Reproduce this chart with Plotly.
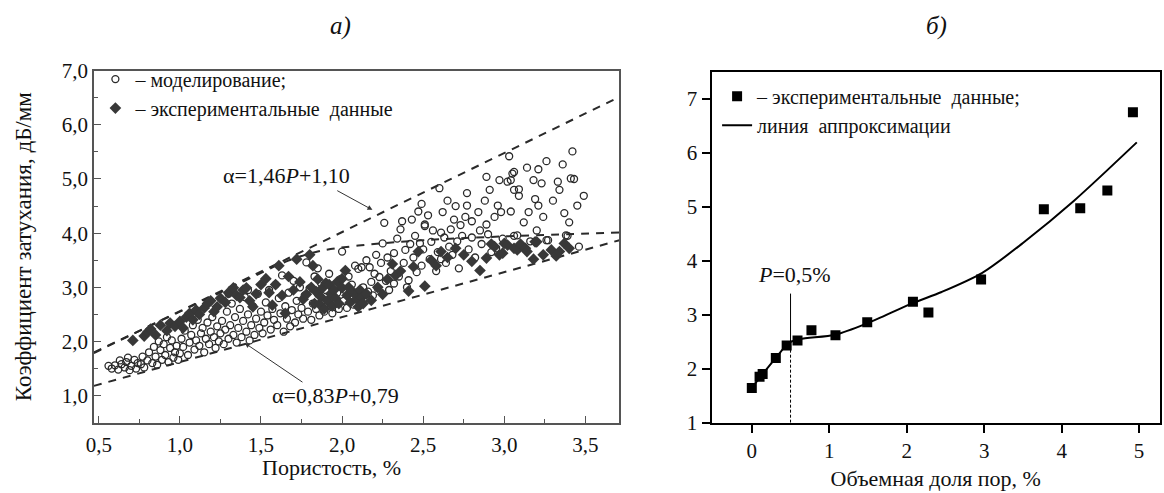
import plotly.graph_objects as go

W, H = 1164, 493
FONT = "Liberation Serif"

# ---------------- panel (а): porosity vs attenuation ----------------
model_P = [0.56,0.58,0.60,0.62,0.64,0.66,0.67,0.69,0.70,0.72,0.73,0.74,0.68,0.63,
           0.76,0.77,0.78,0.80,0.81,0.83,0.84,0.85,0.86,0.88,0.89,0.90,0.91,0.93,0.94,0.95,0.96,0.97,0.98,0.99,0.87,0.92,
           1.00,1.01,1.02,1.03,1.05,1.06,1.07,1.08,1.09,1.10,1.11,1.12,1.13,1.14,1.15,1.16,1.17,1.18,1.19,1.20,1.21,1.22,1.23,1.24,1.25,
           1.26,1.27,1.28,1.29,1.30,1.31,1.32,1.33,1.34,1.35,1.36,1.37,1.38,1.39,1.40,1.41,1.42,1.43,1.44,1.45,1.46,1.47,1.48,1.49,1.50,1.30,1.42,
           1.51,1.52,1.53,1.54,1.55,1.56,1.57,1.58,1.59,1.60,1.61,1.62,1.63,1.64,1.65,1.66,1.67,1.68,1.69,1.70,1.71,1.72,1.73,1.74,1.75,
           1.76,1.77,1.78,1.79,1.80,1.81,1.82,1.83,1.84,1.85,1.86,1.87,1.88,1.89,1.90,1.91,1.92,1.93,1.94,1.95,1.96,1.97,1.98,1.99,2.00,1.85,
           2.01,2.02,2.03,2.04,2.05,2.06,2.07,2.08,2.09,2.10,2.11,2.12,2.13,2.14,2.15,2.16,2.17,2.18,2.19,2.20,2.21,2.22,2.23,2.24,2.25,
           2.26,2.27,2.28,2.29,2.30,2.32,2.32,2.34,2.35,2.36,2.37,2.38,2.39,2.40,2.41,2.42,2.43,2.44,2.45,2.46,2.47,2.48,2.49,2.49,2.50,
           2.51,2.51,2.53,2.54,2.55,2.56,2.58,2.59,2.60,2.61,2.61,2.62,2.63,2.64,2.65,2.66,2.67,2.68,2.69,2.70,2.71,2.72,2.73,2.74,
           2.76,2.77,2.77,2.78,2.80,2.80,2.82,2.84,2.85,2.86,2.88,2.89,2.89,2.90,2.91,2.92,2.94,2.96,2.97,2.98,2.99,2.95,
           3.02,3.03,3.04,3.04,3.05,3.06,3.06,3.08,3.09,3.09,3.06,3.12,3.14,3.15,3.18,3.19,3.20,3.21,3.21,3.23,3.16,3.24,
           3.26,3.26,3.27,3.30,3.33,3.34,3.36,3.37,3.38,3.39,3.41,3.42,3.43,3.45,3.46,3.49,3.40]
model_A = [1.55,1.50,1.56,1.48,1.58,1.52,1.62,1.47,1.55,1.66,1.50,1.60,1.70,1.65,
           1.58,1.72,1.52,1.65,1.80,1.60,1.90,1.72,1.57,1.84,1.66,1.95,1.75,1.62,1.88,2.02,1.70,1.80,1.92,1.66,2.00,2.08,
           1.78,2.05,1.90,2.20,1.75,1.98,2.12,2.30,1.85,2.02,2.40,1.92,2.15,2.25,1.80,2.05,2.35,1.95,2.18,2.45,2.08,1.88,2.28,2.00,2.15,
           2.38,1.95,2.22,2.55,2.05,2.30,2.70,2.12,2.45,1.98,2.25,2.60,2.08,2.38,2.82,2.18,2.50,2.02,2.30,2.65,2.12,2.42,2.88,2.25,2.55,2.88,2.95,
           2.15,2.35,2.72,2.48,2.95,2.22,2.60,2.40,3.05,2.30,2.80,2.52,3.22,2.18,2.65,2.42,2.90,2.28,2.58,3.12,2.35,2.75,2.50,3.00,2.62,
           2.42,2.85,3.46,2.55,2.98,2.40,2.70,3.20,2.60,2.88,2.48,3.08,2.75,2.55,2.95,2.65,3.25,2.80,2.52,3.02,2.70,2.90,2.60,3.15,3.66,3.35,
           2.75,2.95,2.62,3.20,2.85,3.05,2.68,3.40,2.90,3.34,2.72,3.37,3.00,2.80,3.50,2.92,3.37,3.10,2.85,3.25,3.60,2.98,3.19,3.45,3.81,
           4.19,3.12,3.55,2.95,3.30,3.63,3.07,3.90,3.20,4.07,4.22,3.45,3.69,3.00,3.13,3.80,4.25,3.55,3.95,3.28,4.40,3.81,3.40,4.54,3.70,
           4.13,4.16,4.33,3.52,3.84,4.05,3.30,3.65,4.83,4.01,3.52,4.39,3.92,3.45,4.60,3.75,4.07,3.60,4.25,4.50,3.85,3.35,4.15,3.95,
           4.30,4.74,4.51,3.70,4.22,3.92,3.55,4.39,4.05,3.80,4.60,5.04,4.16,3.98,4.80,3.65,4.30,4.51,4.98,4.39,3.90,3.72,
           4.95,5.42,4.98,4.40,5.10,5.13,4.80,3.96,4.81,4.69,3.95,4.20,5.21,4.39,4.98,4.63,4.05,5.18,4.51,4.92,3.85,4.30,
           5.33,3.87,3.87,4.60,4.95,4.80,5.27,4.37,3.96,3.95,5.01,5.51,5.00,4.51,3.75,4.69,4.20]

exp_P = [0.71,0.78,0.80,0.82,0.85,0.88,0.92,0.94,0.97,1.00,1.02,1.04,1.06,1.08,1.10,1.12,1.15,1.17,1.19,1.21,
         1.23,1.25,1.28,1.30,1.33,1.35,1.37,1.39,1.41,1.43,1.45,1.47,1.50,1.53,1.55,1.57,1.59,1.61,1.63,1.65,
         1.67,1.70,1.72,1.74,1.76,1.78,1.80,1.81,1.82,1.83,1.84,1.85,1.86,1.87,1.88,1.89,1.90,1.91,1.92,1.93,
         1.94,1.95,1.96,1.97,1.98,2.00,2.00,2.02,2.03,2.04,2.05,2.06,2.08,2.09,2.10,2.11,2.12,2.13,2.15,2.18,
         2.22,2.25,2.28,2.31,2.33,2.36,2.41,2.44,2.47,2.51,2.55,2.58,2.61,2.65,2.70,2.75,2.80,2.85,2.89,2.92,
         2.94,2.97,2.99,3.00,3.02,3.06,3.08,3.10,3.13,3.14,3.18,3.19,3.20,3.24,3.29,3.32,3.34,3.37,3.40]
exp_A = [2.02,2.10,2.17,2.23,2.12,2.30,2.20,2.34,2.28,2.37,2.25,2.45,2.52,2.40,2.58,2.50,2.62,2.70,2.75,2.55,
         2.64,2.80,2.72,2.90,2.99,2.85,2.81,2.95,2.99,2.75,2.64,2.88,3.05,3.16,2.90,2.67,3.05,3.40,2.85,2.52,
         3.20,2.95,3.52,3.10,2.78,2.87,3.60,3.00,3.40,2.70,2.92,3.15,2.69,2.82,2.99,2.60,3.08,2.75,3.05,2.88,
         2.65,2.95,2.80,3.10,2.70,3.16,2.99,3.31,2.85,3.00,2.72,2.93,2.87,2.78,2.64,2.95,2.81,2.70,2.88,2.76,
         3.00,2.87,3.15,3.43,3.22,3.30,2.93,3.38,3.66,3.02,3.50,3.40,3.66,3.55,3.72,3.60,3.48,3.31,3.54,3.80,
         3.75,3.60,3.63,3.81,3.78,3.72,3.69,3.80,3.72,3.66,3.52,3.84,3.84,3.60,3.69,3.58,3.66,3.81,3.72]

upper_k, upper_b = 1.46, 1.10
lower_k, lower_b = 0.83, 0.79
a_xrange = [0.47, 3.71]
a_yrange = [0.5, 7.0]

mid_P = [0.47, 1.00, 1.40, 1.65, 1.85, 2.10, 2.50, 3.00, 3.71]
mid_A = [1.80, 2.55, 3.12, 3.47, 3.66, 3.77, 3.87, 3.94, 4.01]

a_ticks = [0.5, 1.0, 1.5, 2.0, 2.5, 3.0, 3.5]
a_ticktext = ["0,5", "1,0", "1,5", "2,0", "2,5", "3,0", "3,5"]
a_yticks = [1, 2, 3, 4, 5, 6, 7]
a_yticktext = ["1,0", "2,0", "3,0", "4,0", "5,0", "6,0", "7,0"]

# ---------------- panel (б): pore volume fraction ----------------
vol_P = [0.00, 0.10, 0.14, 0.31, 0.45, 0.59, 0.77, 1.08, 1.49, 2.08, 2.28, 2.96, 3.77, 4.24, 4.59, 4.92]
vol_A = [1.64, 1.85, 1.90, 2.20, 2.43, 2.52, 2.71, 2.62, 2.86, 3.24, 3.04, 3.65, 4.95, 4.97, 5.30, 6.75]

fit_P = [0.00, 0.31, 0.48, 0.62, 1.08, 1.49, 2.07, 2.45, 2.97, 3.52, 4.16, 4.97]
fit_A = [1.65, 2.20, 2.48, 2.55, 2.63, 2.84, 3.21, 3.42, 3.77, 4.35, 5.11, 6.19]

P_mark = 0.5
P_mark_fitA = 2.50
P_mark_topA = 3.39
b_xrange = [-0.52, 5.27]
b_yrange = [1.0, 7.5]

INK = "#2a2a2a"
TXT = "#111111"

fig = go.Figure()

# boundary lines (а)
fig.add_trace(go.Scatter(
    x=mid_P, y=mid_A, mode="lines", line=dict(color=INK, width=2, dash="8px,7px", shape="spline"),
    showlegend=False, hoverinfo="skip", xaxis="x", yaxis="y"))
for k, b in [(upper_k, upper_b), (lower_k, lower_b)]:
    fig.add_trace(go.Scatter(
        x=a_xrange, y=[k * v + b for v in a_xrange], mode="lines",
        line=dict(color=INK, width=2, dash="8px,7px"),
        showlegend=False, hoverinfo="skip", xaxis="x", yaxis="y"))

fig.add_trace(go.Scatter(
    x=model_P, y=model_A, mode="markers", name="– моделирование;",
    marker=dict(symbol="circle-open", size=7, color=INK, line=dict(width=1.3, color=INK)),
    xaxis="x", yaxis="y", legend="legend"))
fig.add_trace(go.Scatter(
    x=exp_P, y=exp_A, mode="markers", name="– экспериментальные  данные",
    marker=dict(symbol="diamond", size=9, color="#383838", line=dict(width=0)),
    xaxis="x", yaxis="y", legend="legend"))

# panel (б)
fig.add_trace(go.Scatter(
    x=[P_mark, P_mark], y=[b_yrange[0], P_mark_fitA], mode="lines",
    line=dict(color="black", width=1, dash="3px,2px"), showlegend=False, hoverinfo="skip",
    xaxis="x2", yaxis="y2"))
fig.add_trace(go.Scatter(
    x=[P_mark, P_mark], y=[P_mark_fitA, P_mark_topA], mode="lines",
    line=dict(color="black", width=1), showlegend=False, hoverinfo="skip",
    xaxis="x2", yaxis="y2"))
fig.add_trace(go.Scatter(
    x=vol_P, y=vol_A, mode="markers", name="– экспериментальные  данные;",
    marker=dict(symbol="square", size=10, color="black"),
    xaxis="x2", yaxis="y2", legend="legend2"))
fig.add_trace(go.Scatter(
    x=fit_P, y=fit_A, mode="lines", name="линия  аппроксимации",
    line=dict(color="black", width=2, shape="spline", smoothing=0.8),
    xaxis="x2", yaxis="y2", legend="legend2"))

tickfont = dict(family=FONT, size=21, color=TXT)
titlefont = dict(family=FONT, size=22, color=TXT)
left_axis_common = dict(showline=True, linecolor="#555", linewidth=1.5, mirror=True,
                        ticks="inside", tickcolor="#555", ticklen=7, tickwidth=1.2,
                        showgrid=False, zeroline=False, tickfont=tickfont)
right_axis_common = dict(showline=True, linecolor="black", linewidth=2, mirror=True,
                         ticks="outside", ticklen=8, tickwidth=2, tickcolor="black",
                         showgrid=False, zeroline=False, tickfont=tickfont)

fig.update_layout(
    width=W, height=H, margin=dict(l=0, r=0, t=0, b=0),
    paper_bgcolor="white", plot_bgcolor="white",
    font=dict(family=FONT, size=21, color=TXT),
    xaxis=dict(domain=[86.5 / W, 615.7 / W], range=a_xrange, tickvals=a_ticks, ticktext=a_ticktext,
               minor=dict(dtick=0.25, tick0=0.25, ticks="inside", ticklen=4, tickcolor="#555"),
               ticklabelstandoff=2,
               anchor="y", **left_axis_common),
    yaxis=dict(domain=[(H - 431.7) / H, (H - 61.7) / H], range=a_yrange, tickvals=a_yticks,
               ticktext=a_yticktext,
               minor=dict(dtick=0.5, tick0=0.5, ticks="inside", ticklen=4, tickcolor="#555"),
               title=dict(text="Коэффициент затухания, дБ/мм", font=dict(family=FONT, size=23, color=TXT),
                          standoff=24),
               anchor="x", **left_axis_common),
    xaxis2=dict(domain=[708.4 / W, 1160 / W], range=b_xrange, tickvals=[0, 1, 2, 3, 4, 5],
                title=dict(text="Объемная доля пор, %", font=titlefont, standoff=9),
                anchor="y2", **right_axis_common),
    yaxis2=dict(domain=[(H - 431.7) / H, (H - 62.7) / H], range=b_yrange, tickvals=[1, 2, 3, 4, 5, 6, 7],
                anchor="x2", **right_axis_common),
    legend=dict(x=88 / W, y=(H - 50) / H, xanchor="left", yanchor="top", bgcolor="rgba(0,0,0,0)",
                font=dict(family=FONT, size=20, color=TXT), itemwidth=30, tracegroupgap=0),
    legend2=dict(x=714 / W, y=(H - 68) / H, xanchor="left", yanchor="top", bgcolor="rgba(0,0,0,0)",
                 font=dict(family=FONT, size=20, color=TXT), itemwidth=30, tracegroupgap=0),
    annotations=[
        dict(text="Пористость, %", x=326 / W, y=0.0, xref="paper", yref="paper", borderpad=0,
             xanchor="center", yanchor="bottom", showarrow=False, font=titlefont),
        dict(text="<i>а)</i>", x=335 / W, y=1 - 15 / H, xref="paper", yref="paper", showarrow=False,
             xanchor="center", yanchor="middle", font=dict(family=FONT, size=25, color=TXT)),
        dict(text="<i>б)</i>", x=935 / W, y=1 - 15 / H, xref="paper", yref="paper", showarrow=False,
             xanchor="center", yanchor="middle", font=dict(family=FONT, size=25, color=TXT)),
        dict(text="α=1,46<i>P</i>+1,10", x=1.66, y=5.06, xref="x", yref="y", showarrow=False,
             font=dict(family=FONT, size=22, color=TXT)),
        dict(text="", x=2.187, y=4.43, ax=1.961, ay=4.80, xref="x", yref="y", axref="x", ayref="y",
             showarrow=True, arrowhead=2, arrowsize=1, arrowwidth=1, arrowcolor="#333"),
        dict(text="α=0,83<i>P</i>+0,79", x=1.96, y=1.0, xref="x", yref="y", showarrow=False,
             font=dict(family=FONT, size=22, color=TXT)),
        dict(text="", x=1.40, y=1.97, ax=1.765, ay=1.23, xref="x", yref="y", axref="x", ayref="y",
             showarrow=True, arrowhead=2, arrowsize=1, arrowwidth=1, arrowcolor="#333"),
        dict(text="<i>P</i>=0,5%", x=0.55, y=3.74, xref="x2", yref="y2", showarrow=False,
             font=dict(family=FONT, size=22, color=TXT)),
    ],
)

fig.write_html("out.html")
